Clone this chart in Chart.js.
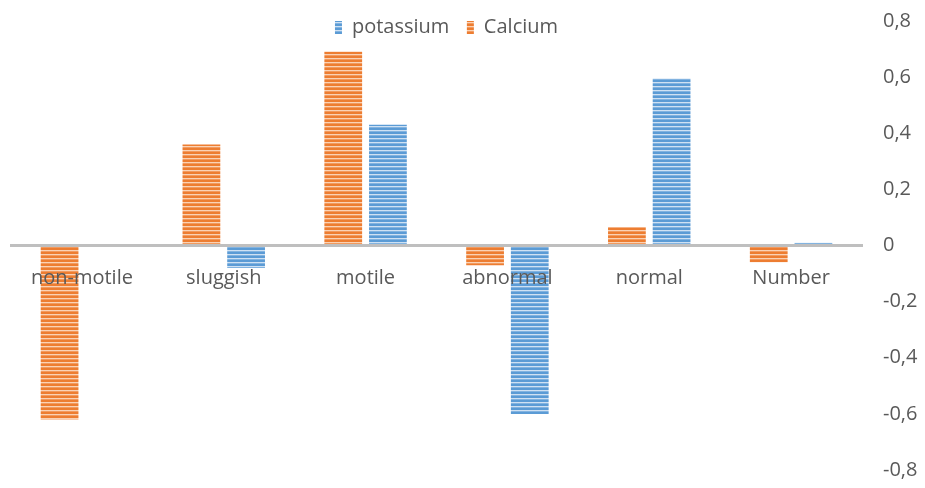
<!DOCTYPE html>
<html>
<head>
<meta charset="utf-8">
<script src="https://cdn.jsdelivr.net/npm/chart.js@4/dist/chart.umd.min.js"></script>
<style>
  html, body { margin: 0; padding: 0; background: #ffffff; }
  #wrap { width: 925px; height: 488px; }
</style>
</head>
<body>
<div id="wrap"><canvas id="c" width="925" height="488"></canvas></div>
<script>
const categories = ['non-motile', 'sluggish', 'motile', 'abnormal', 'normal', 'Number'];
const calcium = [-0.62, 0.36, 0.69, -0.07, 0.065, -0.06];
const potassium = [0, -0.08, 0.43, -0.60, 0.595, 0.01];
const yTickValues = [-0.8, -0.6, -0.4, -0.2, 0, 0.2, 0.4, 0.6, 0.8];
const yTickLabels = ['-0,8', '-0,6', '-0,4', '-0,2', '0', '0,2', '0,4', '0,6', '0,8'];

function stripes(dark, mid, light) {
  const c = document.createElement('canvas');
  c.width = 4; c.height = 4;
  const g = c.getContext('2d');
  g.fillStyle = light; g.fillRect(0, 0, 4, 4);
  g.fillStyle = dark; g.fillRect(0, 0, 4, 2);
  g.fillStyle = mid; g.fillRect(0, 3, 4, 1);
  return g.createPattern(c, 'repeat');
}
const orangeFill = stripes('#ED7D31', '#F29A5E', '#FAD2B5');
const blueFill = stripes('#5B9BD5', '#82B3E0', '#CFE1F3');

const FONT = 'Open Sans';
const GREY = '#595959';

const legendRoom = {
  id: 'legendRoom',
  afterLayout(c) {
    const L = c.legend;
    if (!L) return;
    L.bottom = L.top + 45;
    L.left += 10;
    L.right += 10;
  }
};

new Chart(document.getElementById('c'), {
  type: 'bar',
  data: {
    labels: categories,
    datasets: [
      { label: 'Calcium', data: calcium, backgroundColor: orangeFill, borderWidth: 0,
        categoryPercentage: 0.63, barPercentage: 0.845 },
      { label: 'potassium', data: potassium, backgroundColor: blueFill, borderWidth: 0,
        categoryPercentage: 0.63, barPercentage: 0.845 }
    ]
  },
  plugins: [legendRoom],
  options: {
    responsive: false,
    animation: false,
    layout: { padding: { left: 11, right: 0, top: 0, bottom: 18 } },
    plugins: {
      tooltip: { enabled: false },
      legend: {
        position: 'top',
        fullSize: false,
        reverse: true,
        maxHeight: 21,
        labels: {
          boxWidth: 7, boxHeight: 13, padding: 17.5,
          color: GREY,
          font: { family: FONT, size: 20 }
        }
      }
    },
    scales: {
      x: {
        type: 'category',
        position: { y: 0 },
        z: 1,
        afterFit: (scale) => { scale.height = 0; },
        grid: { display: false, drawTicks: false },
        border: { display: true, color: '#BFBFBF', width: 3, z: 1 },
        ticks: { z: 1, color: GREY, padding: 21, font: { family: FONT, size: 20 }, maxRotation: 0, autoSkip: false }
      },
      y: {
        position: 'right',
        min: -0.8, max: 0.8,
        afterBuildTicks: (scale) => { scale.ticks = yTickValues.map(v => ({ value: v })); },
        afterFit: (scale) => { scale.width = 63; scale.paddingTop = 0; scale.paddingBottom = 0; },
        grid: { display: false, drawTicks: false },
        border: { display: false },
        ticks: {
          color: GREY, padding: 21, font: { family: FONT, size: 20 },
          callback: (v) => {
            const i = yTickValues.findIndex(t => Math.abs(t - v) < 1e-9);
            return i >= 0 ? yTickLabels[i] : '';
          }
        }
      }
    }
  }
});
</script>
</body>
</html>
